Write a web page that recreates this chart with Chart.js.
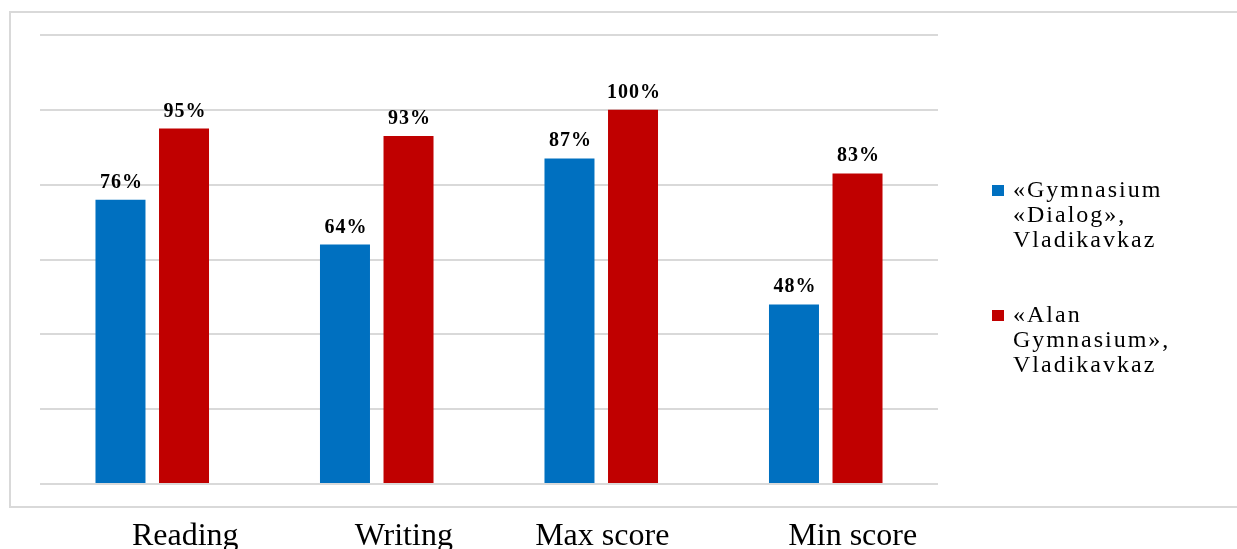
<!DOCTYPE html>
<html>
<head>
<meta charset="utf-8">
<script src="https://cdn.jsdelivr.net/npm/chart.js@4.4.1/dist/chart.umd.min.js"></script>
<style>
  html, body { margin: 0; padding: 0; background: #fff; overflow: hidden; }
  #wrap { width: 1237px; height: 549px; position: relative; }
</style>
</head>
<body>
<div id="wrap"><canvas id="myChart"></canvas></div>
<script>
"use strict"

// data (percent)
const categories = ["Reading", "Writing", "Max score", "Min score"];
const dialogName = ["«Gymnasium", "«Dialog»,", "Vladikavkaz"];
const alanName = ["«Alan", "Gymnasium»,", "Vladikavkaz"];
const dialogValues = [76, 64, 87, 48];
const alanValues = [95, 93, 100, 83];
const yTicks = [0, 20, 40, 60, 80, 100, 120];

// layout bits
const SERIF = "'Liberation Serif', 'Times New Roman', serif";
const GRID = "#d9d9d9";
const labelShift = [33, 27, 1, 27];

// grey frame round the chart, open on the right (it runs off the page)
const framePlugin = {
    id: "frame",
    beforeDraw(chart){
        const ctx = chart.ctx;
        ctx.save();
        ctx.strokeStyle = GRID;
        ctx.lineWidth = 2;
        ctx.beginPath();
        ctx.moveTo(chart.width + 10, 12);
        ctx.lineTo(10, 12);
        ctx.lineTo(10, 507);
        ctx.lineTo(chart.width + 10, 507);
        ctx.stroke();
        ctx.restore();
    }
};

// percent labels above the bars
const valueLabelPlugin = {
    id: "valueLabels",
    afterDatasetsDraw(chart){
        const ctx = chart.ctx;
        ctx.save();
        ctx.font = "bold 20px " + SERIF;
        ctx.fillStyle = "#000";
        ctx.textAlign = "center";
        ctx.textBaseline = "alphabetic";
        ctx.letterSpacing = "1px";
        chart.data.datasets.forEach((ds, di) => {
            chart.getDatasetMeta(di).data.forEach((bar, i) => {
                ctx.fillText(ds.data[i] + "%", bar.x + 1, bar.y - 12);
            });
        });
        ctx.restore();
    }
};

// category names sit under the frame
const categoryPlugin = {
    id: "categoryLabels",
    afterDraw(chart){
        const ctx = chart.ctx;
        const x = chart.scales.x;
        ctx.save();
        ctx.font = "32px " + SERIF;
        ctx.fillStyle = "#000";
        ctx.textAlign = "center";
        ctx.textBaseline = "alphabetic";
        chart.data.labels.forEach((lab, i) => {
            ctx.fillText(lab, x.getPixelForValue(i) + labelShift[i], chart.chartArea.bottom + 61);
        });
        ctx.restore();
    }
};

// legend on the right, three lines per entry
const legendPlugin = {
    id: "sideLegend",
    afterDraw(chart){
        const ctx = chart.ctx;
        const left = chart.chartArea.right + 54;
        ctx.save();
        ctx.font = "24px " + SERIF;
        ctx.textAlign = "left";
        ctx.textBaseline = "alphabetic";
        ctx.letterSpacing = "2px";
        chart.data.datasets.forEach((ds, di) => {
            const base = 197 + di * 125;
            ctx.fillStyle = ds.backgroundColor;
            ctx.fillRect(left, base - 12, 12, 11);
            ctx.fillStyle = "#000";
            ds.label.forEach((line, li) => {
                ctx.fillText(line, left + 21, base + li * 25);
            });
        });
        ctx.restore();
    }
};

const ctx = document.getElementById("myChart").getContext("2d");
const myChart = new Chart(ctx, {
    type: "bar",
    data: {
        labels: categories,
        datasets: [
            {
                label: dialogName,
                data: dialogValues,
                backgroundColor: "#0070C0",
                categoryPercentage: 0.566,
                barPercentage: 0.787
            },
            {
                label: alanName,
                data: alanValues,
                backgroundColor: "#C00000",
                categoryPercentage: 0.566,
                barPercentage: 0.787
            }
        ]
    },
    options: {
        responsive: true,
        maintainAspectRatio: false,
        devicePixelRatio: 1,
        animation: false,
        layout: {
            padding: { left: 40, top: 35, right: 299, bottom: 57 }
        },
        plugins: {
            legend: { display: false },
            tooltip: { enabled: false }
        },
        scales: {
            x: {
                grid: { display: false },
                border: { display: false },
                ticks: { display: false }
            },
            y: {
                min: yTicks[0],
                max: yTicks[yTicks.length - 1],
                afterBuildTicks: (axis) => {
                    axis.ticks = yTicks.map(v => ({ value: v }));
                },
                grid: { color: GRID, lineWidth: 2, drawTicks: false },
                border: { display: false },
                ticks: { display: false }
            }
        }
    },
    plugins: [framePlugin, valueLabelPlugin, categoryPlugin, legendPlugin]
});
</script>
</body>
</html>
